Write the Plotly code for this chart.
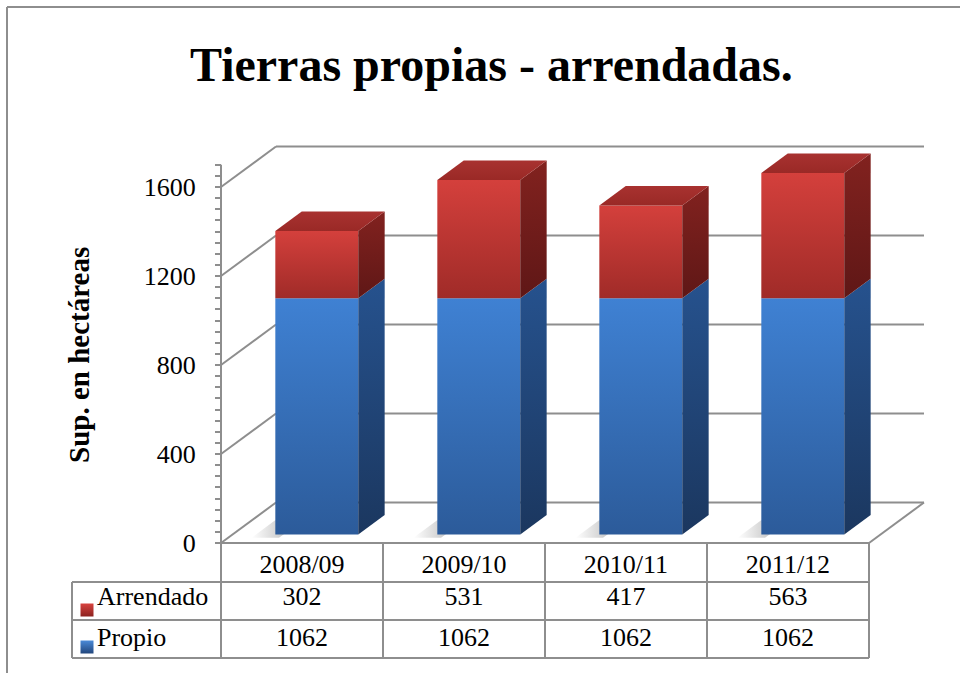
import plotly.graph_objects as go

# ---------------- data ----------------
categories = ["2008/09", "2009/10", "2010/11", "2011/12"]
propio = [1062, 1062, 1062, 1062]
arrendado = [302, 531, 417, 563]
series_names = ["Arrendado", "Propio"]
y_ticks = [0, 400, 800, 1200, 1600]
title_text = "Tierras propias - arrendadas."
y_title = "Sup. en hectáreas"

# ---------------- geometry (pixel layout of the oblique 3D box) ----------------
W, H = 960, 673
X0, CW = 221.0, 162.0      # front-plane left edge (px) and category width (px)
Y0, PXV = 543.0, 0.2225    # px of value 0 and px per unit
DXP, DYP = 55.0, 40.5      # depth of the 3D box (px)
DU = DXP / CW
DV = DYP / PXV
F1, F2 = 0.21, 0.69        # bar front/back depth fraction
BW = 0.512                 # bar width (category units)
BOFF = 0.02
AX_MAX = 1700
NCAT = len(categories)


def U(px):
    return (px - X0) / CW


def V(py):
    return (Y0 - py) / PXV


def P(u, v, d):
    return u + d * DU, v + d * DV


GRID = "#8e8e8e"
FONT = "Liberation Serif, Times New Roman, serif"

fig = go.Figure()


def poly(pts, fill, grad=None, gtype="vertical", lw=0, lc=None):
    xs = [p[0] for p in pts] + [pts[0][0]]
    ys = [p[1] for p in pts] + [pts[0][1]]
    kw = dict(x=xs, y=ys, mode="lines", fill="toself", hoverinfo="skip",
              showlegend=False, line=dict(width=lw, color=lc or "rgba(0,0,0,0)"), fillcolor=fill)
    if grad:
        kw["fillgradient"] = dict(type=gtype, colorscale=grad)
    fig.add_trace(go.Scatter(**kw))


def seg(p, q, color=GRID, width=2):
    fig.add_trace(go.Scatter(x=[p[0], q[0]], y=[p[1], q[1]], mode="lines",
                             line=dict(color=color, width=width),
                             hoverinfo="skip", showlegend=False))


# ---------------- walls / gridlines ----------------
for v in y_ticks:
    seg(P(0, v, 0), P(0, v, 1))
    seg(P(0, v, 1), P(NCAT, v, 1))
seg(P(NCAT, 0, 0), P(NCAT, 0, 1))
# value axis line
seg((0, 0), (0, AX_MAX))

# ---------------- bars ----------------
BLUE_FRONT = [[0, "#2c5b9a"], [1, "#3f81d3"]]
BLUE_SIDE = [[0, "#1b375f"], [1, "#26528e"]]
RED_FRONT = [[0, "#a02b28"], [1, "#d4403c"]]
RED_SIDE = [[0, "#5f1716"], [1, "#82221f"]]
RED_TOP = [[0, "#9a2926"], [1, "#a83230"]]
SHADOW = [[0, "rgba(110,110,110,0)"], [1, "rgba(110,110,110,0.6)"]]

for i in range(NCAT):
    uL = i + 0.5 + BOFF - BW / 2
    uR = uL + BW
    # soft floor shadow at the left of the bar base
    poly([P(uL - 0.12, 0, F1 - 0.08), P(uL + 0.05, 0, F1 - 0.08),
          P(uL + 0.05, 0, F1 + 0.35), P(uL - 0.12, 0, F1 + 0.35)],
         "rgba(110,110,110,0.3)", SHADOW, "horizontal")
    segs = [(0, propio[i], BLUE_FRONT, BLUE_SIDE, "#3572bd"),
            (propio[i], propio[i] + arrendado[i], RED_FRONT, RED_SIDE, "#c03532")]
    for k, (a, b, gf, gs, base) in enumerate(segs):
        poly([P(uL, a, F1), P(uR, a, F1), P(uR, b, F1), P(uL, b, F1)], base, gf)
        poly([P(uR, a, F1), P(uR, a, F2), P(uR, b, F2), P(uR, b, F1)], gs[1][1], gs)
    top = propio[i] + arrendado[i]
    poly([P(uL, top, F1), P(uR, top, F1), P(uR, top, F2), P(uL, top, F2)], "#9e2b28", RED_TOP)

# ---------------- data table ----------------
TL = U(72)
rows_py = [582, 620, 658]
seg(P(0, 0, 0), P(NCAT, 0, 0))
for py in rows_py:
    seg((TL, V(py)), (NCAT, V(py)))
for k in range(NCAT + 1):
    seg((k, 0), (k, V(rows_py[-1])))
seg((TL, V(rows_py[0])), (TL, V(rows_py[-1])))

cx = [i + 0.5 for i in range(NCAT)]
tfont = dict(family=FONT, size=26, color="black")
fig.add_trace(go.Scatter(x=cx, y=[V(566)] * NCAT, mode="text", text=categories,
                         textposition="middle center", textfont=tfont,
                         hoverinfo="skip", showlegend=False))
fig.add_trace(go.Scatter(x=cx, y=[V(598)] * NCAT, mode="text", text=[str(a) for a in arrendado],
                         textposition="middle center", textfont=tfont,
                         hoverinfo="skip", showlegend=False))
fig.add_trace(go.Scatter(x=cx, y=[V(639)] * NCAT, mode="text", text=[str(p) for p in propio],
                         textposition="middle center", textfont=tfont,
                         hoverinfo="skip", showlegend=False))
# row headers with legend keys
fig.add_trace(go.Scatter(x=[U(97)] * 2, y=[V(598), V(639)], mode="text", text=series_names,
                         textposition="middle right", textfont=tfont,
                         hoverinfo="skip", showlegend=False))
fig.add_trace(go.Scatter(x=[U(87)], y=[V(610)], mode="markers",
                         marker=dict(symbol="square", size=13, color="#d8433f",
                                     gradient=dict(type="vertical", color="#8c2220"),
                                     line=dict(width=0)),
                         hoverinfo="skip", showlegend=False))
fig.add_trace(go.Scatter(x=[U(87)], y=[V(647)], mode="markers",
                         marker=dict(symbol="square", size=13, color="#4a8ad8",
                                     gradient=dict(type="vertical", color="#22467c"),
                                     line=dict(width=0)),
                         hoverinfo="skip", showlegend=False))

# ---------------- layout ----------------
minor_vals = [v for v in range(0, AX_MAX + 1, 50) if v not in y_ticks]
fig.update_layout(
    width=W, height=H, autosize=False,
    margin=dict(l=0, r=0, t=0, b=0),
    paper_bgcolor="white", plot_bgcolor="white",
    xaxis=dict(range=[U(0), U(W)], visible=False, domain=[0, 1], fixedrange=True),
    yaxis=dict(range=[V(H), V(0)], anchor="free", position=X0 / W,
               tickmode="array", tickvals=y_ticks, ticktext=[str(t) for t in y_ticks],
               ticks="outside", ticklen=6, tickwidth=2, tickcolor=GRID,
               ticklabelstandoff=14,
               minor=dict(tickmode="array", tickvals=minor_vals, ticks="outside",
                          ticklen=6, tickwidth=2, tickcolor=GRID),
               tickfont=dict(family=FONT, size=26, color="black"),
               showgrid=False, zeroline=False, showline=False, fixedrange=True),
    annotations=[
        dict(text="<b>" + title_text + "</b>", x=491 / W, y=1 - 64 / H, xref="paper", yref="paper",
             showarrow=False, xanchor="center", yanchor="middle",
             font=dict(family=FONT, size=48, color="black")),
        dict(text="<b>" + y_title + "</b>", x=79 / W, y=1 - 355 / H, xref="paper", yref="paper",
             showarrow=False, xanchor="center", yanchor="middle", textangle=-90,
             font=dict(family=FONT, size=29, color="black")),
    ],
    shapes=[
        dict(type="line", xref="paper", yref="paper", x0=7 / W, x1=1, y0=1 - 7 / H, y1=1 - 7 / H,
             line=dict(color=GRID, width=2)),
        dict(type="line", xref="paper", yref="paper", x0=7 / W, x1=7 / W, y0=0, y1=1 - 7 / H,
             line=dict(color=GRID, width=2)),
    ],
)

fig.write_html("out.html", config={"displayModeBar": False},
               post_script="document.body.style.margin='0';document.body.style.overflow='hidden';")
